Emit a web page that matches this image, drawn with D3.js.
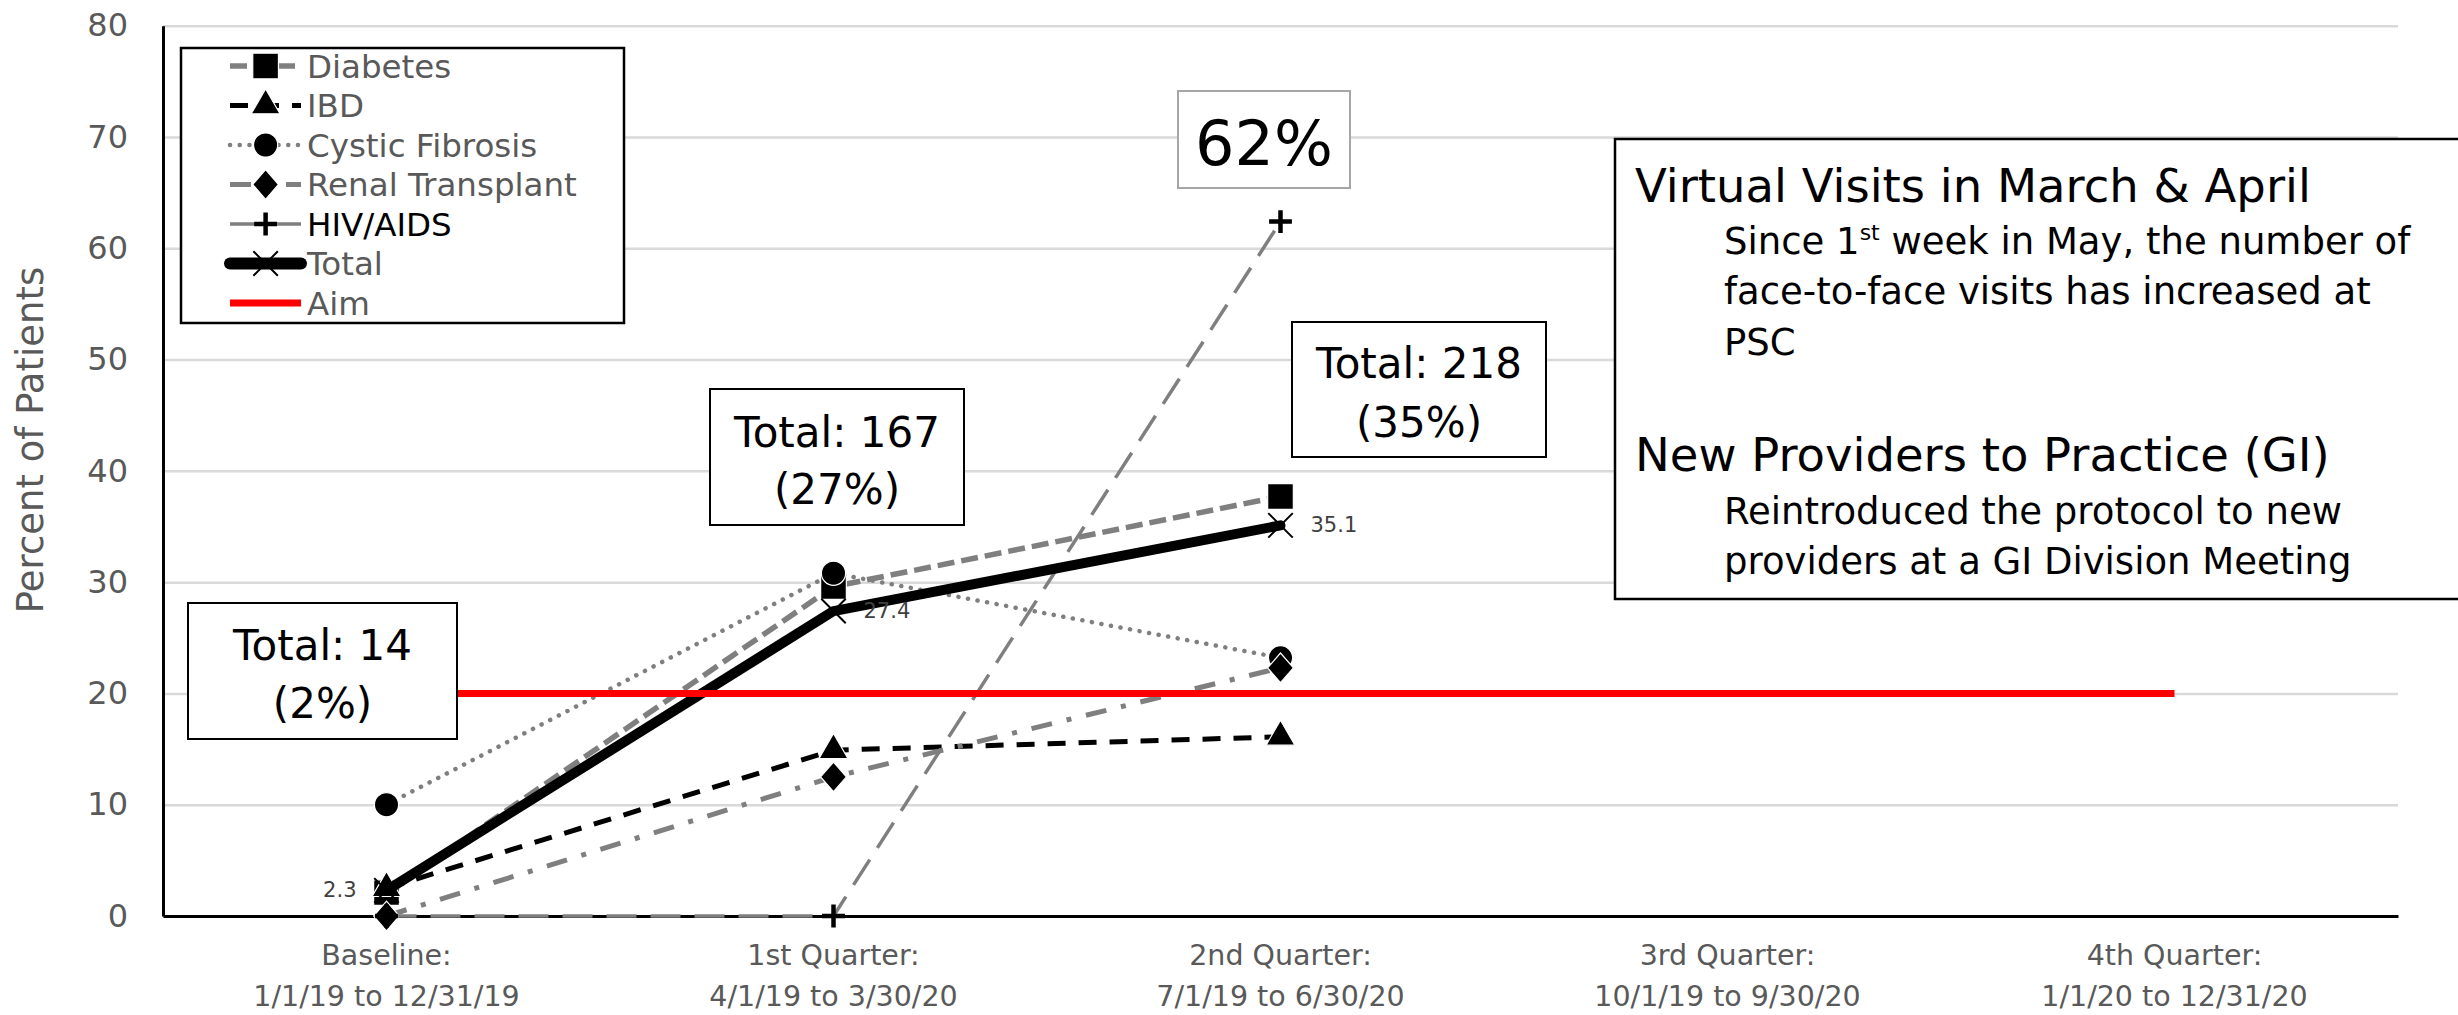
<!DOCTYPE html>
<html>
<head>
<meta charset="utf-8">
<script src="https://cdn.jsdelivr.net/npm/d3@7"></script>
<style>
  html, body { margin: 0; padding: 0; background: #ffffff; }
  svg { display: block; }
  text { font-family: "DejaVu Sans", Verdana, sans-serif; }
</style>
</head>
<body>
<svg id="chart" width="2458" height="1015"></svg>
<script>
// ---- data ----
const periodNames = ["Baseline:", "1st Quarter:", "2nd Quarter:", "3rd Quarter:", "4th Quarter:"];
const periodRanges = ["1/1/19 to 12/31/19", "4/1/19 to 3/30/20", "7/1/19 to 6/30/20", "10/1/19 to 9/30/20", "1/1/20 to 12/31/20"];
const yTicks = [0, 10, 20, 30, 40, 50, 60, 70, 80];

const diabetes = [2.1, 29.6, 37.7];
const ibd = [2.5, 14.9, 16.1];
const cysticFibrosis = [10.0, 30.8, 23.2];
const renalTransplant = [0, 12.5, 22.3];
const hivAids = [0, 0, 62.4];
const total = [2.3, 27.4, 35.1];
const aim = [20, 20, 20, 20, 20];
const totalPatients = [14, 167, 218];

const noteLines = [
  { kind: "head", text: "Virtual Visits in March & April" },
  { kind: "body", text: ["Since 1", "st", " week in May, the number of"] },
  { kind: "body", text: "face-to-face visits has increased at" },
  { kind: "body", text: "PSC" },
  { kind: "head", text: "New Providers to Practice (GI)" },
  { kind: "body", text: "Reintroduced the protocol to new" },
  { kind: "body", text: "providers at a GI Division Meeting" }
];

// ---- layout ----
const svg = d3.select("#chart");
const plotLeft = 163, plotRight = 2398, plotTop = 25.7, plotBottom = 916;
const grey = "#7f7f7f", tickGrey = "#595959";

const x = d3.scaleBand().domain(periodNames).range([plotLeft, plotRight]);
const y = d3.scaleLinear().domain([0, 80]).range([plotBottom, plotTop]);
const cx = i => x(periodNames[i]) + x.bandwidth() / 2;

// gridlines
const grid = svg.append("g").attr("transform", `translate(${plotLeft},0)`)
  .call(d3.axisLeft(y).tickValues(yTicks).tickSize(-(plotRight - plotLeft)).tickFormat(""));
grid.select(".domain").remove();
grid.selectAll("line").attr("stroke", "#d9d9d9").attr("stroke-width", 2.5);

// y axis
const yAxis = svg.append("g").attr("transform", `translate(${plotLeft},0)`)
  .call(d3.axisLeft(y).tickValues(yTicks).tickSize(0).tickSizeOuter(0).tickPadding(35));
yAxis.select(".domain").attr("stroke", "#000").attr("stroke-width", 3);
yAxis.selectAll("text").attr("font-size", 32).attr("fill", tickGrey)
  .style("font-family", '"DejaVu Sans", Verdana, sans-serif');

svg.append("text")
  .attr("transform", "translate(30,440) rotate(-90)")
  .attr("text-anchor", "middle").attr("dominant-baseline", "central")
  .attr("font-size", 37).attr("fill", tickGrey)
  .text("Percent of Patients");

// x axis
const xAxis = svg.append("g").attr("transform", `translate(0,${plotBottom})`)
  .call(d3.axisBottom(x).tickSize(0).tickSizeOuter(0));
xAxis.select(".domain").attr("stroke", "#000").attr("stroke-width", 3);
xAxis.selectAll(".tick text").each(function(d, i) {
  const t = d3.select(this).text(null).attr("y", 0).attr("dy", null)
    .attr("font-size", 28.5).attr("fill", tickGrey)
    .style("font-family", '"DejaVu Sans", Verdana, sans-serif');
  t.append("tspan").attr("x", 0).attr("y", 49).text(periodNames[i]);
  t.append("tspan").attr("x", 0).attr("y", 90).text(periodRanges[i]);
});

// ---- marker shapes ----
const diamondType = {
  draw(ctx, size) {
    const h = Math.sqrt(size) / 2, w = h * 0.87;
    ctx.moveTo(0, -h); ctx.lineTo(w, 0); ctx.lineTo(0, h); ctx.lineTo(-w, 0); ctx.closePath();
  }
};
const plusType = {
  draw(ctx, size) {
    const r = Math.sqrt(size) / 2;
    ctx.moveTo(-r, 0); ctx.lineTo(r, 0); ctx.moveTo(0, -r); ctx.lineTo(0, r);
  }
};
const timesType = {
  draw(ctx, size) {
    const r = Math.sqrt(size) / 2;
    ctx.moveTo(-r, -r); ctx.lineTo(r, r); ctx.moveTo(-r, r); ctx.lineTo(r, -r);
  }
};

const series = [
  { name: "Diabetes", values: diabetes, color: grey, width: 5.5, dash: "17 7", cap: "butt",
    symbol: d3.symbolSquare, size: 660, filled: true, labelColor: tickGrey },
  { name: "IBD", values: ibd, color: "#000", width: 5, dash: "18 13", cap: "butt",
    symbol: d3.symbolTriangle, size: 360, filled: true, labelColor: tickGrey },
  { name: "Cystic Fibrosis", values: cysticFibrosis, color: grey, width: 4.5, dash: "0.1 9.6", cap: "round",
    symbol: d3.symbolCircle, size: 460, filled: true, labelColor: tickGrey },
  { name: "Renal Transplant", values: renalTransplant, color: grey, width: 5, dash: "21 15 5 15", cap: "butt",
    symbol: diamondType, size: 880, filled: true, labelColor: tickGrey },
  { name: "HIV/AIDS", values: hivAids, color: grey, width: 3.5, dash: "30 14", cap: "butt",
    symbol: plusType, size: 520, filled: false, markWidth: 4.5, labelColor: "#000" },
  { name: "Total", values: total, color: "#000", width: 10, dash: null, cap: "round",
    symbol: timesType, size: 600, filled: false, markWidth: 2, labelColor: tickGrey },
  { name: "Aim", values: aim, color: "#ff0000", width: 7, dash: null, cap: "butt",
    symbol: null, labelColor: tickGrey }
];

const line = d3.line().x((d, i) => cx(i)).y(d => y(d));

function drawMarker(g, s, px, py) {
  const p = g.append("path")
    .attr("d", d3.symbol().type(s.symbol).size(s.size)())
    .attr("transform", `translate(${px},${py})`);
  if (s.filled) p.attr("fill", "#000").attr("stroke", "#fff").attr("stroke-width", 1.2);
  else p.attr("fill", "none").attr("stroke", "#000").attr("stroke-width", s.markWidth);
}

const plot = svg.append("g");
series.forEach(s => {
  const g = plot.append("g");
  g.append("path").datum(s.values).attr("d", line)
    .attr("fill", "none").attr("stroke", s.color).attr("stroke-width", s.width)
    .attr("stroke-dasharray", s.dash).attr("stroke-linecap", s.cap).attr("stroke-linejoin", "round");
  if (s.symbol) s.values.forEach((v, i) => drawMarker(g, s, cx(i), y(v)));
});

// value labels on the Total series
const labelSide = ["left", "right", "right"];
total.forEach((v, i) => {
  const left = labelSide[i] === "left";
  svg.append("text")
    .attr("x", cx(i) + (left ? -30 : 30)).attr("y", y(v))
    .attr("text-anchor", left ? "end" : "start").attr("dominant-baseline", "central")
    .attr("font-size", 21).attr("fill", "#404040")
    .text(v.toFixed(1));
});

// ---- callout boxes ----
function callout(bx, by, bw, bh, lines, baselines, fontSize, border) {
  const g = svg.append("g");
  g.append("rect").attr("x", bx).attr("y", by).attr("width", bw).attr("height", bh)
    .attr("fill", "#fff").attr("stroke", border).attr("stroke-width", 2);
  lines.forEach((t, k) => g.append("text")
    .attr("x", bx + bw / 2).attr("y", baselines[k]).attr("text-anchor", "middle")
    .attr("font-size", fontSize).attr("fill", "#000").text(t));
}
const totalText = i => [`Total: ${totalPatients[i]}`, `(${Math.round(total[i])}%)`];
callout(188, 603, 269, 136, totalText(0), [660, 718], 42, "#000");
callout(710, 389, 254, 136, totalText(1), [447, 504], 42, "#000");
callout(1292, 322, 254, 135, totalText(2), [378, 437], 42, "#000");
callout(1178, 91, 172, 97, [`${Math.round(hivAids[2])}%`], [165], 62, "#a6a6a6");

// notes panel
const notes = svg.append("g");
notes.append("rect").attr("x", 1615).attr("y", 139).attr("width", 860).attr("height", 460)
  .attr("fill", "#fff").attr("stroke", "#000").attr("stroke-width", 2.5);
const noteBaselines = [202, 254, 304, 355, 471, 524, 574];
noteLines.forEach((ln, k) => {
  const head = ln.kind === "head";
  const t = notes.append("text")
    .attr("x", head ? 1635 : 1724).attr("y", noteBaselines[k])
    .attr("font-size", head ? 46.5 : 37).attr("fill", "#000");
  if (Array.isArray(ln.text)) {
    t.append("tspan").text(ln.text[0]);
    t.append("tspan").attr("dy", -14).attr("font-size", 22).text(ln.text[1]);
    t.append("tspan").attr("dy", 14).text(ln.text[2]);
  } else {
    t.text(ln.text);
  }
});

// ---- legend ----
const legend = svg.append("g");
legend.append("rect").attr("x", 181).attr("y", 48).attr("width", 443).attr("height", 275)
  .attr("fill", "#fff").attr("stroke", "#000").attr("stroke-width", 2.5);
series.forEach((s, k) => {
  const ly = 66 + k * 39.5;
  const g = legend.append("g");
  g.append("line").attr("x1", 230).attr("x2", 301).attr("y1", ly).attr("y2", ly)
    .attr("stroke", s.color)
    .attr("stroke-width", s.name === "Total" ? 12 : s.width)
    .attr("stroke-dasharray", s.dash)
    .attr("stroke-linecap", s.name === "Total" ? "round" : s.cap);
  if (s.symbol) drawMarker(g, s, 265.6, ly);
  g.append("text").attr("x", 307).attr("y", ly + 11.5)
    .attr("font-size", 32.5).attr("fill", s.labelColor).text(s.name);
});
</script>
</body>
</html>
